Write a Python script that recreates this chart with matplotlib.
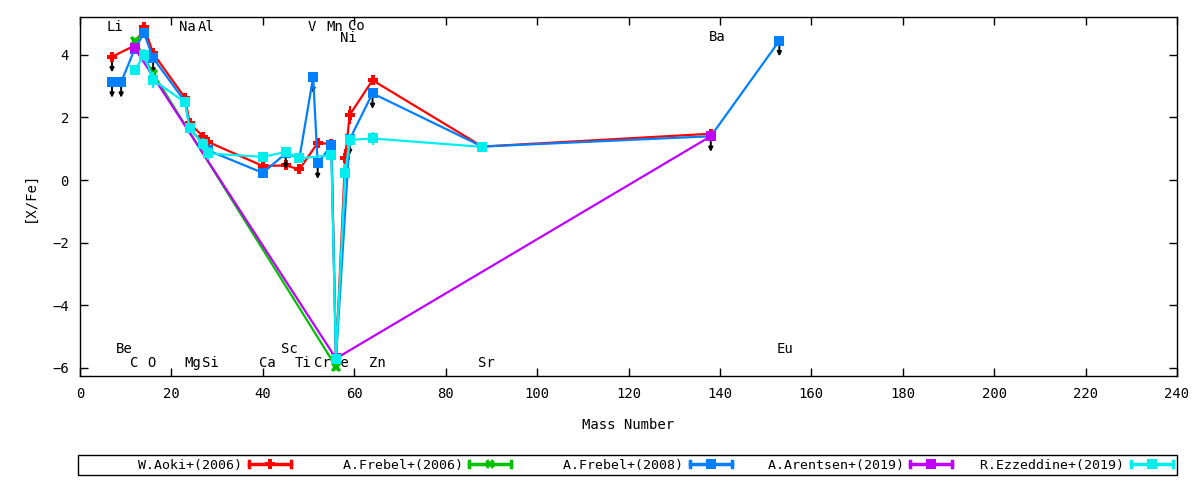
import numpy as np
import matplotlib
matplotlib.use("Agg")
import matplotlib.pyplot as plt
from matplotlib.lines import Line2D
from matplotlib.legend_handler import HandlerBase

plt.rcParams["font.family"] = "DejaVu Sans Mono"
plt.rcParams["font.size"] = 9.5

# mass numbers of the elements
mass = {"Li": 7, "Be": 9, "C": 12, "N": 14, "O": 16, "Na": 23, "Mg": 24,
        "Al": 27, "Si": 28, "Ca": 40, "Sc": 45, "Ti": 48, "V": 51, "Cr": 52,
        "Mn": 55, "Fe": 56, "Ni": 58, "Co": 59, "Zn": 64, "Sr": 88,
        "Ba": 138, "Eu": 153}

# W.Aoki+(2006)
aoki_el = ["Li", "C", "N", "O", "Na", "Mg", "Al", "Si", "Ca", "Sc", "Ti",
           "Cr", "Mn", "Fe", "Ni", "Co", "Zn", "Sr", "Ba"]
aoki_val = [3.94, 4.3, 4.9, 4.05, 2.62, 1.81, 1.38, 1.22, 0.45, 0.47, 0.34,
            1.19, 1.15, -5.7, 0.69, 2.08, 3.19, 1.07, 1.48]
aoki_err = [0.0, 0.0, 0.16, 0.0, 0.1, 0.1, 0.1, 0.1, 0.1, 0.1, 0.1,
            0.1, 0.1, 0.0, 0.3, 0.3, 0.12, 0.08, 0.08]
aoki_ul = ["Li"]

# A.Frebel+(2006)
frebel06_el = ["C", "O", "Fe"]
frebel06_val = [4.45, 3.4, -5.96]
frebel06_err = [0.0, 0.0, 0.0]
frebel06_ul = []

# A.Frebel+(2008)
frebel08_el = ["Li", "Be", "C", "N", "O", "Na", "Mg", "Al", "Si", "Ca", "Sc",
               "Ti", "V", "Cr", "Mn", "Fe", "Co", "Zn", "Sr", "Ba", "Eu"]
frebel08_val = [3.13, 3.13, 4.2, 4.69, 3.9, 2.5, 1.65, 1.15, 0.95, 0.23, 0.85,
                0.7, 3.28, 0.53, 1.12, -5.7, 1.3, 2.77, 1.07, 1.4, 4.45]
frebel08_err = [0.0] * len(frebel08_el)
frebel08_ul = ["Li", "Be", "O", "Sc", "V", "Cr", "Mn", "Co", "Zn", "Eu"]

# A.Arentsen+(2019)
arentsen_el = ["C", "Fe", "Ba"]
arentsen_val = [4.21, -5.7, 1.4]
arentsen_err = [0.0, 0.0, 0.0]
arentsen_ul = ["Ba"]

# R.Ezzeddine+(2019)
ezz_el = ["C", "N", "O", "Na", "Mg", "Al", "Si", "Ca", "Sc", "Ti", "Mn",
          "Fe", "Ni", "Co", "Zn", "Sr"]
ezz_val = [3.51, 4.0, 3.2, 2.48, 1.65, 1.15, 0.85, 0.74, 0.9, 0.69, 0.8,
           -5.71, 0.21, 1.28, 1.33, 1.06]
ezz_err = [0.0, 0.2, 0.25, 0.05, 0.1, 0.2, 0.2, 0.12, 0.1, 0.15, 0.0,
           0.0, 0.3, 0.2, 0.2, 0.05]
ezz_ul = []

# element name labels (name, x, y)
lab_names = ["Li", "Be", "C", "O", "Na", "Al", "Mg", "Si", "Ca", "Sc", "Ti",
             "Cr", "Fe", "V", "Mn", "Co", "Ni", "Zn", "Sr", "Ba", "Eu"]
lab_x = [7.7, 9.6, 11.8, 15.7, 23.6, 27.5, 24.7, 28.6, 40.9, 45.7, 48.8,
         53.0, 57.0, 50.8, 55.8, 60.4, 58.7, 65.0, 88.9, 139.4, 154.3]
lab_y = [4.89, -5.4, -5.85, -5.85, 4.89, 4.89, -5.85, -5.85, -5.85, -5.4,
         -5.85, -5.85, -5.85, 4.89, 4.89, 4.92, 4.55, -5.85, -5.85, 4.57, -5.4]

series = [
    ("W.Aoki+(2006)", aoki_el, aoki_val, aoki_err, aoki_ul, "#ff0000", "P"),
    ("A.Frebel+(2006)", frebel06_el, frebel06_val, frebel06_err, frebel06_ul, "#00c000", "X"),
    ("A.Frebel+(2008)", frebel08_el, frebel08_val, frebel08_err, frebel08_ul, "#0080ff", "s"),
    ("A.Arentsen+(2019)", arentsen_el, arentsen_val, arentsen_err, arentsen_ul, "#c000ff", "s"),
    ("R.Ezzeddine+(2019)", ezz_el, ezz_val, ezz_err, ezz_ul, "#00eeee", "s"),
]

fig = plt.figure(figsize=(12, 4.8), dpi=100)
ax = fig.add_axes([80 / 1200, 1 - 376 / 480, 1097 / 1200, 359 / 480])

for name, x, y in zip(lab_names, lab_x, lab_y):
    ax.text(x, y, name, ha="center", va="center", fontsize=10, zorder=1)

for i, (label, els, vals, errs, uls, col, mk) in enumerate(series):
    xs = np.array([mass[e] for e in els], dtype=float)
    ys = np.array(vals)
    ax.errorbar(xs, ys, yerr=np.array(errs), color=col, marker=mk, ms=7.5,
                mew=0, lw=1.6, elinewidth=1.6, capsize=3, capthick=1.6,
                zorder=3 + i)
    for e in uls:
        v = vals[els.index(e)]
        ax.annotate("", xy=(mass[e], v - 0.5), xytext=(mass[e], v - 0.12),
                    arrowprops=dict(arrowstyle="-|>", color="black", lw=1.4,
                                    mutation_scale=6, shrinkA=0, shrinkB=0),
                    zorder=2 + i)

ax.set_xlim(0, 240)
ax.set_ylim(-6.26, 5.21)
ax.set_xticks(np.arange(0, 241, 20))
ax.set_yticks(np.arange(-6, 5, 2))
ax.tick_params(direction="in", top=True, right=True, length=6, width=1,
               labelsize=10, pad=8)
for s in ax.spines.values():
    s.set_linewidth(1)
ax.set_xlabel("Mass Number", fontsize=10, labelpad=12)
ax.set_ylabel("[X/Fe]", fontsize=10, labelpad=11)


class CapHandler(HandlerBase):
    def create_artists(self, legend, orig, xd, yd, w, h, fontsize, trans):
        col = orig.get_color()
        y = h / 2 - yd
        x0, x1 = -xd, -xd + w
        line = Line2D([x0, x1], [y, y], color=col, lw=2.5, transform=trans)
        c0 = Line2D([x0, x0], [y - h * 0.35, y + h * 0.35], color=col, lw=2.5, transform=trans)
        c1 = Line2D([x1, x1], [y - h * 0.35, y + h * 0.35], color=col, lw=2.5, transform=trans)
        m = Line2D([(x0 + x1) / 2], [y], color=col, marker=orig.get_marker(),
                   ms=7, mew=0, transform=trans)
        return [line, c0, c1, m]


handles = [Line2D([], [], color=s[5], marker=s[6]) for s in series]
labels = [s[0].rjust(20) for s in series]
leg = fig.legend(handles, labels, ncol=5, mode="expand", loc="center",
                 bbox_to_anchor=(78 / 1200, 5 / 480, 1099 / 1200, 20 / 480),
                 markerfirst=False, handlelength=3.2, handletextpad=0.5,
                 borderpad=0.3, borderaxespad=0, fancybox=False, framealpha=1,
                 edgecolor="black", handler_map={Line2D: CapHandler()},
                 fontsize=9.5)
leg.get_frame().set_linewidth(1)

fig.savefig("out.png", dpi=100)
